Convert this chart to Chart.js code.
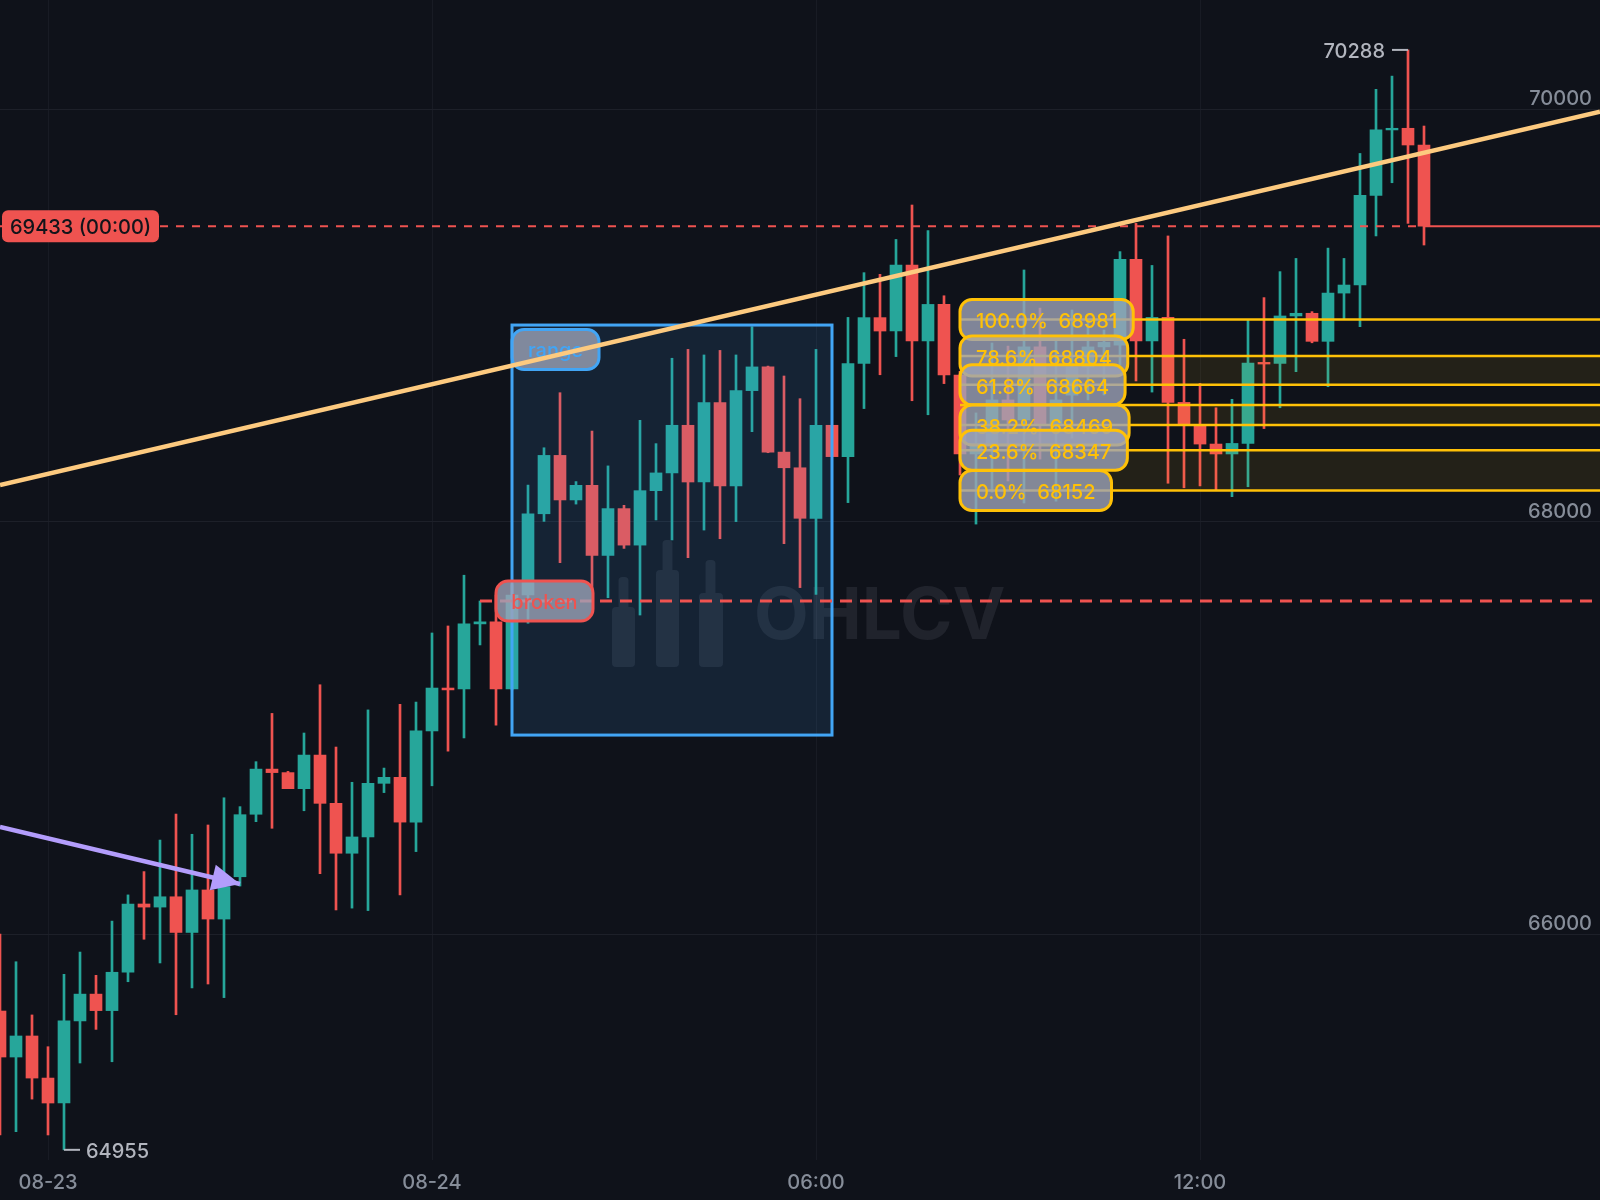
<!DOCTYPE html>
<html>
<head>
<meta charset="utf-8">
<title>OHLCV</title>
<script src="https://cdn.jsdelivr.net/npm/chart.js@4/dist/chart.umd.min.js"></script>
<style>
  html, body { margin: 0; padding: 0; background: #0f121a; }
  canvas { display: block; }
</style>
</head>
<body>
<canvas id="chart" width="1600" height="1200"></canvas>
<script>
// candles (15 minute bars, index 0 sits on the left edge)
const opens = [
  65628, 65405, 65507, 65303, 65182, 65580, 65710, 65630, 65816, 66147,
  66132, 66182, 66009, 66215, 66074, 66279, 66582, 66801, 66784, 66706,
  66869, 66635, 66393, 66472, 66732, 66761, 66544, 66986, 67194, 67190,
  67505, 67515, 67190, 67645, 68039, 68322, 68106, 68177, 67837, 68064,
  67887, 68151, 68237, 68468, 68193, 68578, 68174, 68636, 68751, 68338,
  68262, 68017, 68468, 68316, 68768, 68990, 68925, 69245, 68877, 69054,
  68712, 68329, 68380, 68591, 68494, 68848, 68470, 68614, 68750, 68848,
  68857, 69273, 68877, 68991, 68579, 68464, 68377, 68329, 68380, 68773,
  68768, 68998, 69011, 68875, 69109, 69148, 69583, 69900, 69908, 69827
];
const closes = [
  65405, 65507, 65303, 65182, 65580, 65710, 65630, 65816, 66147, 66132,
  66182, 66009, 66215, 66074, 66231, 66580, 66801, 66784, 66706, 66869,
  66635, 66393, 66472, 66732, 66761, 66544, 66986, 67194, 67185, 67505,
  67515, 67190, 67645, 68039, 68322, 68106, 68177, 67837, 68064, 67887,
  68151, 68237, 68468, 68193, 68578, 68174, 68636, 68751, 68338, 68262,
  68017, 68468, 68316, 68767, 68990, 68925, 69245, 68877, 69054, 68712,
  68329, 68380, 68591, 68494, 68848, 68470, 68591, 68750, 68848, 68870,
  69273, 68877, 68991, 68579, 68469, 68377, 68329, 68380, 68770, 68765,
  68998, 69011, 68875, 69109, 69148, 69583, 69900, 69908, 69827, 69433
];
const highs = [
  66001, 65867, 65609, 65455, 65806, 65914, 65801, 66064, 66191, 66304,
  66457, 66583, 66485, 66530, 66662, 66619, 66837, 67071, 66790, 66976,
  67210, 66908, 66737, 67088, 66806, 67115, 67126, 67461, 67495, 67741,
  67616, 67645, 67694, 68178, 68359, 68626, 68195, 68440, 68271, 68080,
  68492, 68379, 68793, 68836, 68809, 68831, 68809, 68946, 68755, 68707,
  68597, 68836, 68468, 68991, 69208, 69200, 69369, 69536, 69412, 69096,
  68730, 68528, 68867, 68852, 69221, 69036, 68881, 69027, 68978, 68930,
  69310, 69447, 69243, 69386, 68885, 68671, 68553, 68594, 68978, 69087,
  69213, 69277, 69019, 69327, 69277, 69786, 70097, 70161, 70288, 69919
];
const lows = [
  65027, 65043, 65201, 65027, 64955, 65376, 65539, 65382, 65770, 65976,
  65861, 65610, 65740, 65759, 65693, 66234, 66546, 66514, 66706, 66599,
  66294, 66118, 66127, 66115, 66687, 66191, 66401, 66720, 66888, 66952,
  67403, 67014, 67185, 67508, 68002, 67802, 68086, 67669, 67632, 67871,
  67548, 68009, 67912, 67826, 67960, 67918, 68001, 68437, 68335, 67894,
  67681, 67648, 68316, 68093, 68549, 68713, 68801, 68587, 68519, 68670,
  68227, 67989, 68144, 68198, 68091, 68304, 68100, 68406, 68591, 68615,
  68760, 68683, 68629, 68187, 68165, 68174, 68154, 68122, 68170, 68452,
  68553, 68728, 68868, 68655, 68985, 68946, 69386, 69644, 69447, 69342
];

// axes
const slotCount = 101;
const xTickIndex = [3, 27, 51, 75];
const xTickLabels = ['08-23', '08-24', '06:00', '12:00'];
const yTicks = [66000, 68000, 70000];
const yMin = 64905.7;
const yMax = 70530;

// drawings, anchored on candle index and price
const trendIndex = [0, 100];
const trendPrices = [68178, 69988];
const arrowIndex = [0, 15];
const arrowPrices = [66521, 66244];
const rangeIndex = [32, 52];
const rangePrices = [68954, 66966];
const brokenIndex = [30, 100];
const brokenPrice = 67616;
const brokenLabelIndex = 31;
const lastIndex = 89;
const lastPrice = 69433;
const lastLabel = '69433 (00:00)';
const fibIndex = 60;
const fibPrices = [68981, 68804, 68664, 68566, 68469, 68347, 68152];
const fibNames = ['100.0%', '78.6%', '61.8%', null, '38.2%', '23.6%', '0.0%'];
const fibZones = [[1, 2], [3, 4], [5, 6]];
const highMark = { index: 88, price: 70288, text: '70288' };
const lowMark = { index: 4, price: 64955, text: '64955' };

const UP = '#26a69a';
const DOWN = '#ef5350';
const BLUE = '#42a5f5';
const GOLD = '#ffc107';
const PURPLE = '#b39dfc';
const LABEL_BG = 'rgba(156,163,184,0.8)';
const FONT = '"Inter", "Noto Sans", sans-serif';

const categories = Array.from({ length: slotCount }, (_, i) => {
  const at = xTickIndex.indexOf(i);
  return at >= 0 ? xTickLabels[at] : '';
});
const candleColors = closes.map((c, i) => (c >= opens[i] ? UP : DOWN));
const lineData = (idx, vals) => categories.map((_, i) => (idx.includes(i) ? vals[idx.indexOf(i)] : null));

function labelBox(ctx, x, y, w, h, stroke) {
  ctx.beginPath();
  ctx.roundRect(x, y, w, h, 12);
  ctx.fillStyle = LABEL_BG;
  ctx.fill();
  ctx.lineWidth = 3;
  ctx.strokeStyle = stroke;
  ctx.stroke();
}

function hLine(ctx, x1, x2, y, color, width, dash) {
  ctx.beginPath();
  ctx.setLineDash(dash || []);
  ctx.moveTo(x1, y);
  ctx.lineTo(x2, y);
  ctx.lineWidth = width;
  ctx.strokeStyle = color;
  ctx.stroke();
  ctx.setLineDash([]);
}

// watermark sits under the candles
const watermark = {
  id: 'watermark',
  beforeDatasetsDraw(chart) {
    const ctx = chart.ctx;
    ctx.save();
    ctx.fillStyle = 'rgba(170,175,190,0.11)';
    const bars = [[612, 23, 577, 30, 607, 60], [656, 23, 540, 30, 570, 97], [699, 24, 560, 33, 593, 74]];
    bars.forEach(([x, w, wickTop, wickH, bodyTop, bodyH]) => {
      ctx.beginPath();
      ctx.roundRect(x + 6.5, wickTop, 10, wickH + 4, 4);
      ctx.roundRect(x, bodyTop, w, bodyH, 4);
      ctx.fill();
    });
    ctx.font = 'bold 71px ' + FONT;
    ctx.textAlign = 'left';
    ctx.textBaseline = 'alphabetic';
    ctx.fillText('OHLCV', 754, 639);
    ctx.restore();
  }
};

// range box, broken line, last price and fib levels go between the candles and the trend line
const overlays = {
  id: 'overlays',
  afterDatasetDraw(chart, args) {
    if (args.index !== 2) return;
    const ctx = chart.ctx;
    const x = chart.scales.x;
    const y = chart.scales.y;
    const right = x.getPixelForValue(100);
    ctx.save();
    ctx.textBaseline = 'middle';
    ctx.font = '500 20px ' + FONT;

    // range
    const rx = x.getPixelForValue(rangeIndex[0]);
    const rw = x.getPixelForValue(rangeIndex[1]) - rx;
    const ry = y.getPixelForValue(rangePrices[0]);
    const rh = y.getPixelForValue(rangePrices[1]) - ry;
    ctx.fillStyle = 'rgba(66,165,245,0.12)';
    ctx.fillRect(rx, ry, rw, rh);
    ctx.strokeStyle = BLUE;
    ctx.lineWidth = 3;
    ctx.strokeRect(rx, ry, rw, rh);
    labelBox(ctx, rx, ry + 4.5, 87, 40, BLUE);
    ctx.fillStyle = BLUE;
    ctx.textAlign = 'center';
    ctx.fillText('range', rx + 43.5, ry + 26);

    // broken level
    const by = y.getPixelForValue(brokenPrice);
    hLine(ctx, x.getPixelForValue(brokenIndex[0]), x.getPixelForValue(brokenIndex[1]) - 6, by, DOWN, 3, [12, 8]);
    const bx = x.getPixelForValue(brokenLabelIndex);
    labelBox(ctx, bx, by - 20, 97, 40, DOWN);
    ctx.fillStyle = DOWN;
    ctx.fillText('broken', bx + 48.5, by + 2);

    // last price
    const ly = y.getPixelForValue(lastPrice);
    const lx = x.getPixelForValue(lastIndex);
    hLine(ctx, 0, lx, ly, DOWN, 2, [8, 8]);
    hLine(ctx, lx, right, ly, DOWN, 2);

    // fib zones and levels
    const fx = x.getPixelForValue(fibIndex);
    ctx.fillStyle = 'rgba(255,193,7,0.085)';
    fibZones.forEach(([a, b]) => {
      const top = y.getPixelForValue(fibPrices[a]);
      ctx.fillRect(fx, top, right - fx, y.getPixelForValue(fibPrices[b]) - top);
    });
    fibPrices.forEach((p) => hLine(ctx, fx, right, y.getPixelForValue(p), GOLD, 2.5));
    ctx.textAlign = 'left';
    fibPrices.forEach((p, i) => {
      if (!fibNames[i]) return;
      const py = y.getPixelForValue(p);
      const text = fibNames[i] + '  ' + p;
      const w = ctx.measureText(text).width + 32;
      labelBox(ctx, fx, py - 20, w, 40, GOLD);
      ctx.fillStyle = GOLD;
      ctx.fillText(text, fx + 16, py + 3);
    });

    // high and low marks
    ctx.fillStyle = '#b2b5be';
    const hx = x.getPixelForValue(highMark.index);
    const hy = y.getPixelForValue(highMark.price);
    hLine(ctx, hx - 16, hx, hy, '#b2b5be', 2);
    ctx.textAlign = 'right';
    ctx.fillText(highMark.text, hx - 23, hy + 2);
    const dx = x.getPixelForValue(lowMark.index);
    const dy = y.getPixelForValue(lowMark.price);
    hLine(ctx, dx, dx + 16, dy, '#b2b5be', 2);
    ctx.textAlign = 'left';
    ctx.fillText(lowMark.text, dx + 22, dy + 2);

    // last price tag
    ctx.beginPath();
    ctx.roundRect(2, ly - 16, 157, 32, 6);
    ctx.fillStyle = DOWN;
    ctx.fill();
    ctx.fillStyle = '#12141a';
    ctx.fillText(lastLabel, 10, ly + 2);
    ctx.restore();
  },
  afterDatasetsDraw(chart) {
    const ctx = chart.ctx;
    const x = chart.scales.x;
    const y = chart.scales.y;
    const x0 = x.getPixelForValue(arrowIndex[0]);
    const y0 = y.getPixelForValue(arrowPrices[0]);
    const x1 = x.getPixelForValue(arrowIndex[1]);
    const y1 = y.getPixelForValue(arrowPrices[1]);
    const a = Math.atan2(y1 - y0, x1 - x0);
    ctx.save();
    ctx.translate(x1, y1);
    ctx.rotate(a);
    ctx.beginPath();
    ctx.moveTo(0, 0);
    ctx.lineTo(-28, -13);
    ctx.lineTo(-28, 13);
    ctx.closePath();
    ctx.fillStyle = PURPLE;
    ctx.fill();
    ctx.restore();
  }
};

new Chart(document.getElementById('chart'), {
  type: 'bar',
  data: {
    labels: categories,
    datasets: [
      {
        type: 'line',
        data: lineData(trendIndex, trendPrices),
        borderColor: '#fdca7f',
        borderWidth: 4.5,
        pointRadius: 0,
        spanGaps: true,
        order: 0
      },
      {
        type: 'line',
        data: lineData(arrowIndex, arrowPrices),
        borderColor: PURPLE,
        borderWidth: 4.5,
        pointRadius: 0,
        spanGaps: true,
        order: 1
      },
      {
        // bodies
        data: opens.map((o, i) => [o, closes[i]]),
        backgroundColor: candleColors,
        barThickness: 12,
        grouped: false,
        order: 2
      },
      {
        // wicks
        data: lows.map((l, i) => [l, highs[i]]),
        backgroundColor: candleColors,
        barThickness: 2,
        grouped: false,
        order: 3
      }
    ]
  },
  options: {
    responsive: false,
    animation: false,
    devicePixelRatio: 1,
    layout: { autoPadding: false, padding: 0 },
    plugins: { legend: { display: false }, tooltip: { enabled: false } },
    scales: {
      x: {
        offset: false,
        afterBuildTicks: (axis) => { axis.ticks = xTickIndex.map((v) => ({ value: v })); },
        afterFit: (axis) => { axis.height = 40; axis.paddingLeft = 0; axis.paddingRight = 0; },
        border: { display: false },
        grid: { color: '#181b24', drawTicks: false, offset: false },
        ticks: {
          autoSkip: false,
          maxRotation: 0,
          minRotation: 0,
          padding: 11,
          color: '#868d99',
          font: { family: FONT, size: 20, weight: 500 }
        }
      },
      y: {
        position: 'right',
        min: yMin,
        max: yMax,
        afterBuildTicks: (axis) => { axis.ticks = yTicks.map((v) => ({ value: v })); },
        afterFit: (axis) => { axis.width = 0; axis.paddingTop = 0; axis.paddingBottom = 0; },
        border: { display: false },
        grid: { color: '#1d2029', drawTicks: false },
        ticks: {
          mirror: true,
          padding: -8,
          labelOffset: -10,
          color: '#868d99',
          font: { family: FONT, size: 20, weight: 500 },
          callback: (v) => String(v)
        }
      }
    }
  },
  plugins: [watermark, overlays]
});
</script>
</body>
</html>
